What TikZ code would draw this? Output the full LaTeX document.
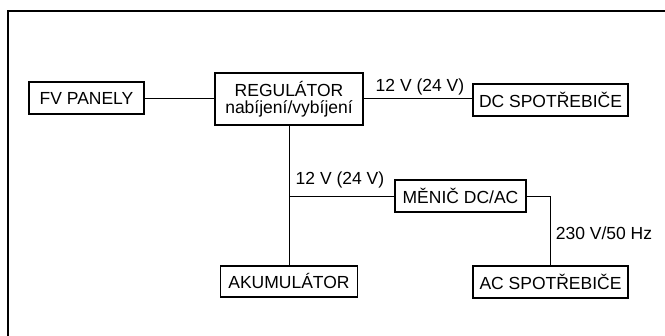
\documentclass[tikz,border=0pt]{standalone}
\usepackage{fontspec}
\setmainfont{Liberation Sans}
\begin{document}
\begin{tikzpicture}[x=1pt,y=-1pt,
  blok/.style={draw,line width=1.4pt,inner sep=0pt,align=center,font=\fontsize{17.5}{17.5}\selectfont},
  spoj/.style={line width=0.7pt},
  popis/.style={inner sep=0pt,font=\fontsize{17.5}{19}\selectfont}]
\useasboundingbox (0,0) rectangle (665,336);
\draw[line width=1.2pt] (8,340) -- (8,11) -- (670,11);
\node[blok,minimum width=115pt,minimum height=32pt] (fv) at (86.5,98) {FV PANELY};
\node[blok,minimum width=148pt,minimum height=52pt] (reg) at (289,99) {REGULÁTOR\\nabíjení/vybíjení};
\node[blok,minimum width=155pt,minimum height=32pt] (dc) at (550.5,100) {DC SPOTŘEBIČE};
\node[blok,minimum width=131pt,minimum height=32pt] (men) at (460.5,196) {MĚNIČ DC/AC};
\node[blok,minimum width=137pt,minimum height=31pt] (aku) at (289,281.5) {AKUMULÁTOR};
\node[blok,minimum width=155pt,minimum height=32pt] (ac) at (550.5,282) {AC SPOTŘEBIČE};
\coordinate (j) at (289,196);
\draw[spoj] (fv.east) -- (fv.east -| reg.west);
\draw[spoj] (reg.east |- 0,98) -- (dc.west |- 0,98);
\draw[spoj] (reg.south) -- (aku.north);
\draw[spoj] (j) -- (men.west);
\draw[spoj] (men.east) -| (ac.north);
\node[popis] (l1) at (420,87) {12 V (24 V)};
\node[popis] (l2) at (340,180) {12 V (24 V)};
\node[popis] (l3) at (604,233) {230 V/50 Hz};
\end{tikzpicture}
\end{document}
